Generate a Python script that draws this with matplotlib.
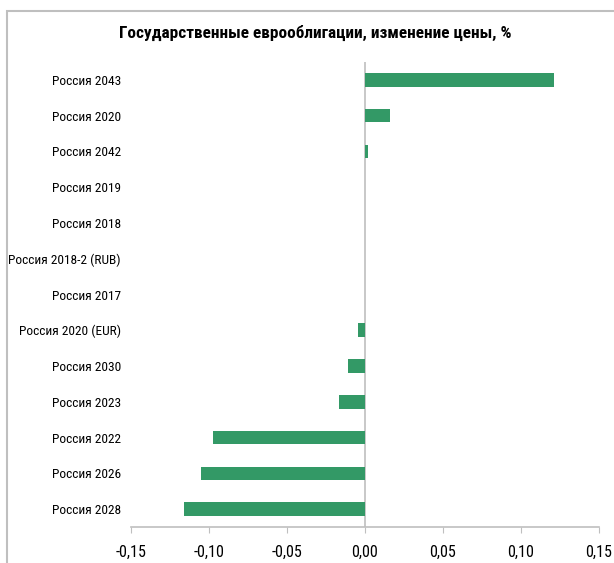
import matplotlib
matplotlib.use("Agg")
import matplotlib.pyplot as plt
from matplotlib.patches import Rectangle
from matplotlib.ticker import FuncFormatter
from matplotlib import font_manager

categories = ["Россия 2043", "Россия 2020", "Россия 2042", "Россия 2019", "Россия 2018",
              "Россия 2018-2 (RUB)", "Россия 2017", "Россия 2020 (EUR)", "Россия 2030",
              "Россия 2023", "Россия 2022", "Россия 2026", "Россия 2028"]
values = [0.121, 0.0164, 0.0017, 0.0, 0.0, 0.0, 0.0, -0.0047, -0.0107, -0.0164,
          -0.0975, -0.105, -0.1157]
xticks = [-0.15, -0.10, -0.05, 0.0, 0.05, 0.10, 0.15]
title = "Государственные еврооблигации, изменение цены, %"

names = {f.name for f in font_manager.fontManager.ttflist}
fam = 'DejaVu Sans'
for cand in ['Liberation Sans Narrow', 'DejaVu Sans Condensed', 'Roboto Condensed', 'Open Sans Condensed']:
    if cand in names:
        fam = cand
        break
plt.rcParams['font.family'] = [fam, 'DejaVu Sans']

W, H = 614, 563
fig = plt.figure(figsize=(W / 100, H / 100), dpi=100)
fig.patches.append(Rectangle((7 / W, -0.1), 1.2, 1 - 11 / H + 0.1, transform=fig.transFigure,
                             fill=False, edgecolor='#BFBFBF', linewidth=1.5))
renderer = fig.canvas.get_renderer()


def fit_size(txt, target_px, weight='normal', base=10.0):
    t = fig.text(0, 0, txt, fontsize=base, fontweight=weight)
    w = t.get_window_extent(renderer).width
    t.remove()
    return base * target_px / w


lab_fs = fit_size("Россия 2018-2 (RUB)", 112)
tick_fs = fit_size("-0,15", 31)
title_fs = fit_size(title, 394, weight='bold')

ax = fig.add_axes([130.7 / W, 1 - 527 / H, (599 - 130.7) / W, (527 - 62) / H])
n = len(categories)
ypos = list(range(n))
ax.barh(ypos, values, height=0.38, color='#339966', zorder=2)
ax.set_ylim(n - 0.5, -0.5)
ax.set_xlim(-0.15, 0.15)
ax.set_yticks(ypos)
ax.set_yticklabels(categories, fontsize=lab_fs)
ax.tick_params(axis='y', length=0, pad=7)
ax.set_xticks(xticks)
ax.xaxis.set_major_formatter(FuncFormatter(lambda v, p: f"{v:.2f}".replace('.', ',').replace('-0,00', '0,00')))
ax.tick_params(axis='x', length=4, color='#BFBFBF', labelsize=tick_fs, pad=9)
for s in ['top', 'right', 'left']:
    ax.spines[s].set_visible(False)
ax.spines['bottom'].set_color('#BFBFBF')
ax.spines['bottom'].set_linewidth(1.2)
ax.axvline(0, color='#BFBFBF', linewidth=1.2, zorder=1)

fig.text(315 / W, 1 - 33 / H, title, ha='center', va='center', fontsize=title_fs, fontweight='bold')

fig.savefig("out.png", dpi=100)
